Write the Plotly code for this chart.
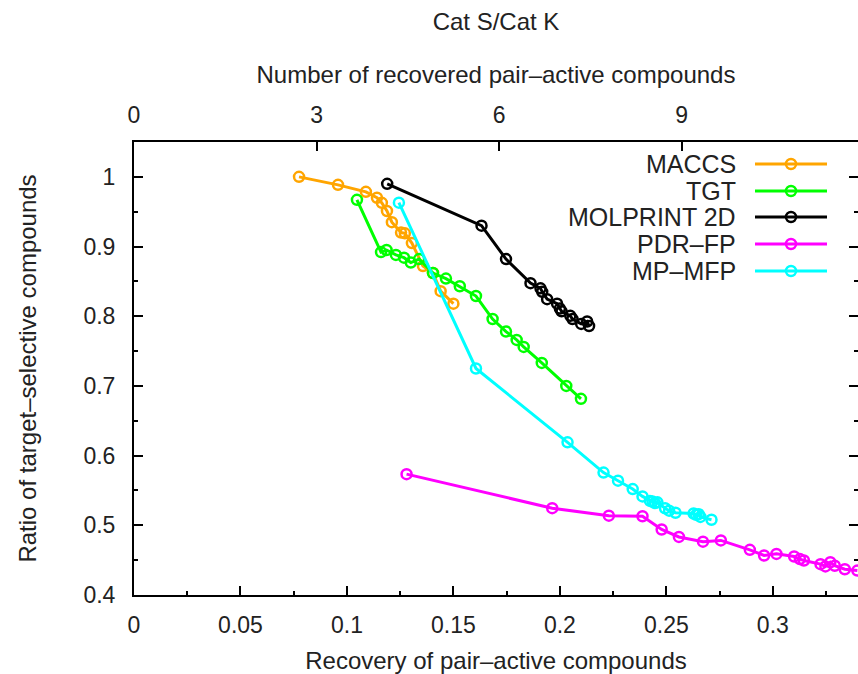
import plotly.graph_objects as go

# ---------------- data ----------------
maccs_x = [0.0775, 0.0958, 0.1089, 0.1141, 0.1164, 0.1188, 0.1211, 0.1254, 0.1272, 0.1305, 0.1357, 0.1404, 0.1440, 0.1500]
maccs_y = [1.000, 0.9885, 0.9785, 0.970, 0.9627, 0.951, 0.935, 0.920, 0.919, 0.905, 0.872, 0.862, 0.836, 0.818]

tgt_x = [0.1047, 0.1160, 0.1186, 0.1230, 0.1268, 0.1300, 0.1339, 0.1404, 0.1465, 0.1530, 0.1606, 0.1684, 0.1747, 0.1797, 0.1830, 0.1915, 0.2030, 0.2099]
tgt_y = [0.967, 0.892, 0.895, 0.888, 0.884, 0.877, 0.882, 0.862, 0.854, 0.843, 0.829, 0.796, 0.778, 0.766, 0.756, 0.733, 0.700, 0.6815]

molprint_x = [0.1189, 0.1632, 0.1747, 0.1862, 0.1909, 0.1917, 0.1940, 0.1987, 0.2000, 0.2008, 0.2049, 0.2059, 0.2100, 0.2128, 0.2137]
molprint_y = [0.990, 0.930, 0.882, 0.8475, 0.840, 0.835, 0.8245, 0.818, 0.811, 0.807, 0.8006, 0.796, 0.789, 0.7925, 0.786]

pdr_x = [0.1280, 0.1964, 0.2230, 0.2388, 0.2478, 0.2559, 0.2672, 0.2756, 0.2892, 0.2959, 0.3017, 0.3100, 0.3127, 0.3146, 0.3224, 0.3247, 0.3270, 0.3291, 0.3338, 0.3397]
pdr_y = [0.5734, 0.5246, 0.5138, 0.5130, 0.4940, 0.4833, 0.4765, 0.4783, 0.4648, 0.4567, 0.4590, 0.4552, 0.4515, 0.4495, 0.4443, 0.4410, 0.4470, 0.4420, 0.4370, 0.4350]

mpmfp_x = [0.1244, 0.1606, 0.2036, 0.2205, 0.2273, 0.2342, 0.2388, 0.2423, 0.2435, 0.2446, 0.2458, 0.2494, 0.2513, 0.2543, 0.2628, 0.2640, 0.2652, 0.2660, 0.2712]
mpmfp_y = [0.963, 0.725, 0.619, 0.5757, 0.564, 0.552, 0.5415, 0.535, 0.534, 0.532, 0.533, 0.5245, 0.521, 0.518, 0.517, 0.515, 0.516, 0.512, 0.508]

series_names = ["MACCS", "TGT", "MOLPRINT 2D", "PDR\u2013FP", "MP\u2013MFP"]
series_colors = ["#ffa500", "#00ff00", "#000000", "#ff00ff", "#00ffff"]
series_x = [maccs_x, tgt_x, molprint_x, pdr_x, mpmfp_x]
series_y = [maccs_y, tgt_y, molprint_y, pdr_y, mpmfp_y]

n_pair_active = 35  # top axis = recovery * 35
top_ticks = [0, 3, 6, 9]

x_range = [0, 0.34]
y_range = [0.4, 1.05]

# ---------------- figure ----------------
W, H = 858, 674
ML, MR, MT, MB = 134, 0, 142, 79
FONT = "Liberation Sans, Arial, sans-serif"
TXT = "#222222"

fig = go.Figure()
for name, col, xs, ys in zip(series_names, series_colors, series_x, series_y):
    fig.add_trace(go.Scatter(
        x=xs, y=ys, mode="lines+markers", name=name, showlegend=False,
        line=dict(color=col, width=3),
        marker=dict(symbol="circle-open", size=10, color=col, line=dict(width=2.5, color=col)),
    ))

# dummy trace to activate secondary axes
fig.add_trace(go.Scatter(x=[None], y=[None], xaxis="x2", yaxis="y2", showlegend=False, hoverinfo="skip"))

# custom legend (text left of sample, like gnuplot)
pw, ph = W - ML - MR, H - MT - MB
def px2paper(px, py):
    return (px - ML) / pw, (H - MB - py) / ph

row_y = [164, 191, 217, 244, 271]
for name, col, py in zip(series_names, series_colors, row_y):
    tx, ty = px2paper(738, py)
    fig.add_annotation(x=tx, y=ty, xref="paper", yref="paper", text=name, showarrow=False,
                       xanchor="right", yanchor="middle", font=dict(family=FONT, size=25, color=TXT))
    x0, yy = px2paper(755, py)
    x1, _ = px2paper(827, py)
    fig.add_shape(type="line", xref="paper", yref="paper", x0=x0, x1=x1, y0=yy, y1=yy,
                  line=dict(color=col, width=3))
    cx, cy = px2paper(791, py)
    fig.add_shape(type="circle", xref="paper", yref="paper", xsizemode="pixel", ysizemode="pixel",
                  xanchor=cx, yanchor=cy, x0=-5, x1=5, y0=-5, y1=5,
                  line=dict(color=col, width=2.5), fillcolor="rgba(0,0,0,0)")

tickfont = dict(family=FONT, size=23, color=TXT)
titlefont = dict(family=FONT, size=24, color=TXT)

fig.update_layout(
    width=W, height=H,
    margin=dict(l=ML, r=MR, t=MT, b=MB, pad=0),
    paper_bgcolor="white", plot_bgcolor="white",
    title=dict(text="Cat S/Cat K", x=(ML + pw / 2) / W, xanchor="center",
               y=1 - 22 / H, yanchor="middle", font=dict(family=FONT, size=24, color=TXT)),
    xaxis=dict(range=x_range, dtick=0.05, tick0=0, showgrid=False, zeroline=False,
               showline=True, linecolor="black", linewidth=2,
               ticks="inside", ticklen=9, tickwidth=1.5, tickcolor="black",
               minor=dict(dtick=0.025, ticks="inside", ticklen=4, tickwidth=1.5, tickcolor="black"),
               tickfont=tickfont, ticklabelstandoff=8,
               title=dict(text="Recovery of pair\u2013active compounds", font=titlefont, standoff=16)),
    yaxis=dict(range=y_range, dtick=0.1, tick0=0.4, showgrid=False, zeroline=False,
               showline=True, linecolor="black", linewidth=2,
               ticks="inside", ticklen=9, tickwidth=1.5, tickcolor="black",
               minor=dict(dtick=0.05, ticks="inside", ticklen=4, tickwidth=1.5, tickcolor="black"),
               tickfont=tickfont, ticklabelstandoff=12,
               title=dict(text="Ratio of target\u2013selective compounds", font=titlefont, standoff=40)),
    xaxis2=dict(overlaying="x", side="top", anchor="y",
                range=[x_range[0] * n_pair_active, x_range[1] * n_pair_active],
                tickvals=top_ticks, showgrid=False, zeroline=False,
                showline=True, linecolor="black", linewidth=2,
                ticks="inside", ticklen=9, tickwidth=1.5, tickcolor="black",
                tickfont=tickfont, ticklabelstandoff=8,
                title=dict(text="Number of recovered pair\u2013active compounds", font=titlefont, standoff=11)),
    yaxis2=dict(overlaying="y", side="right", anchor="x", range=y_range, dtick=0.1, tick0=0.4,
                showgrid=False, zeroline=False, showline=False, showticklabels=False,
                ticks="inside", ticklen=9, tickwidth=1.5, tickcolor="black",
                minor=dict(dtick=0.05, ticks="inside", ticklen=4, tickwidth=1.5, tickcolor="black")),
)

fig.write_html("out.html")
